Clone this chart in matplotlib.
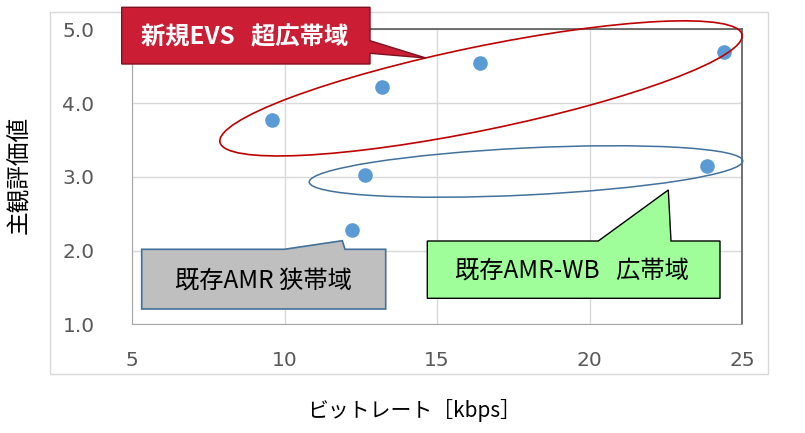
import matplotlib
matplotlib.use('Agg')
import matplotlib.pyplot as plt
from matplotlib.patches import Ellipse, Polygon, Rectangle
from matplotlib.transforms import Affine2D

# data (bitrate kbps, MOS-like score)
evs_rate = [9.6, 13.2, 16.4, 24.4]
evs_score = [3.77, 4.22, 4.54, 4.69]
amrwb_rate = [12.65, 23.85]
amrwb_score = [3.02, 3.15]
amr_rate = [12.2]
amr_score = [2.28]

x_ticks = [5, 10, 15, 20, 25]
y_ticks = [1.0, 2.0, 3.0, 4.0, 5.0]

jp = ['Noto Sans CJK JP', 'DejaVu Sans']

W, H = 805, 433
fig = plt.figure(figsize=(W / 100, H / 100), dpi=100)
ax = fig.add_axes([132 / W, 1 - 324.3 / H, 610 / W, 295 / H])

# pixel space (origin top-left) for the decorations
pix = Affine2D().scale(1 / W, -1 / H).translate(0, 1) + fig.transFigure

fig.add_artist(Rectangle((50, 12), 718, 362, transform=pix, fill=False,
                         ec='#d9d9d9', lw=1, zorder=0))

ax.plot(evs_rate, evs_score, 'o', color='#5b9bd5', ms=9.5, zorder=3)
ax.plot(amrwb_rate, amrwb_score, 'o', color='#5b9bd5', ms=9.5, zorder=3)
ax.plot(amr_rate, amr_score, 'o', color='#5b9bd5', ms=9.5, zorder=3)

ax.set_xlim(5, 25)
ax.set_ylim(1, 5)
ax.set_xticks(x_ticks)
ax.set_yticks(y_ticks)
ax.set_yticklabels([f'{v:.1f}' for v in y_ticks])
ax.tick_params(length=0, labelsize=14.5, labelcolor='#595959')
ax.tick_params(axis='y', pad=27)
ax.tick_params(axis='x', pad=19)
ax.grid(True, color='#d9d9d9', lw=1)
ax.set_axisbelow(True)
for s in ['left', 'bottom']:
    ax.spines[s].set_color('#a6a6a6')
for s in ['top', 'right']:
    ax.spines[s].set_color('#595959')
    ax.spines[s].set_linewidth(1.2)

fig.text(20, 175, '主観評価値', transform=pix, rotation=90, ha='center', va='center',
         fontsize=17, family=jp)
fig.text(414, 411, 'ビットレート［kbps］', transform=pix, ha='center', va='center',
         fontsize=15, family=jp)

# group ellipses
fig.add_artist(Ellipse((481, 88.4), 533, 83.4, angle=-11.65, transform=pix,
                       fill=False, ec='#c00000', lw=1.2))
fig.add_artist(Ellipse((526, 171.5), 434, 47, angle=-2.8, transform=pix,
                       fill=False, ec='#41719c', lw=1.1))

# callouts
red = [(121.7, 7.3), (370, 7.3), (370, 40.7), (426, 58), (370, 53.3), (370, 64), (121.7, 64)]
gray = [(141.7, 249.3), (284.3, 249.3), (342.3, 240.7), (345, 249.3), (385.7, 249.3),
        (385.7, 309), (141.7, 309)]
green = [(427.3, 241), (598.3, 241), (668.3, 190), (671, 241), (720, 241),
         (720, 298.3), (427.3, 298.3)]
fig.add_artist(Polygon(red, closed=True, transform=pix, fc='#cb1e34', ec='#7f1020', lw=1))
fig.add_artist(Polygon(gray, closed=True, transform=pix, fc='#bfbfbf', ec='#41719c', lw=1.2))
fig.add_artist(Polygon(green, closed=True, transform=pix, fc='#9ffe9a', ec='#000000', lw=1))

fig.text(245, 37.5, '新規EVS   超広帯域', transform=pix, ha='center', va='center',
         fontsize=17.5, fontweight='bold', color='white', family=jp, zorder=5)
fig.text(263, 280.8, '既存AMR 狭帯域', transform=pix, ha='center', va='center',
         fontsize=17.5, color='black', family=jp, zorder=5)
fig.text(571.5, 270.8, '既存AMR-WB   広帯域', transform=pix, ha='center', va='center',
         fontsize=17.5, color='black', family=jp, zorder=5)

fig.savefig('out.png', dpi=100)
